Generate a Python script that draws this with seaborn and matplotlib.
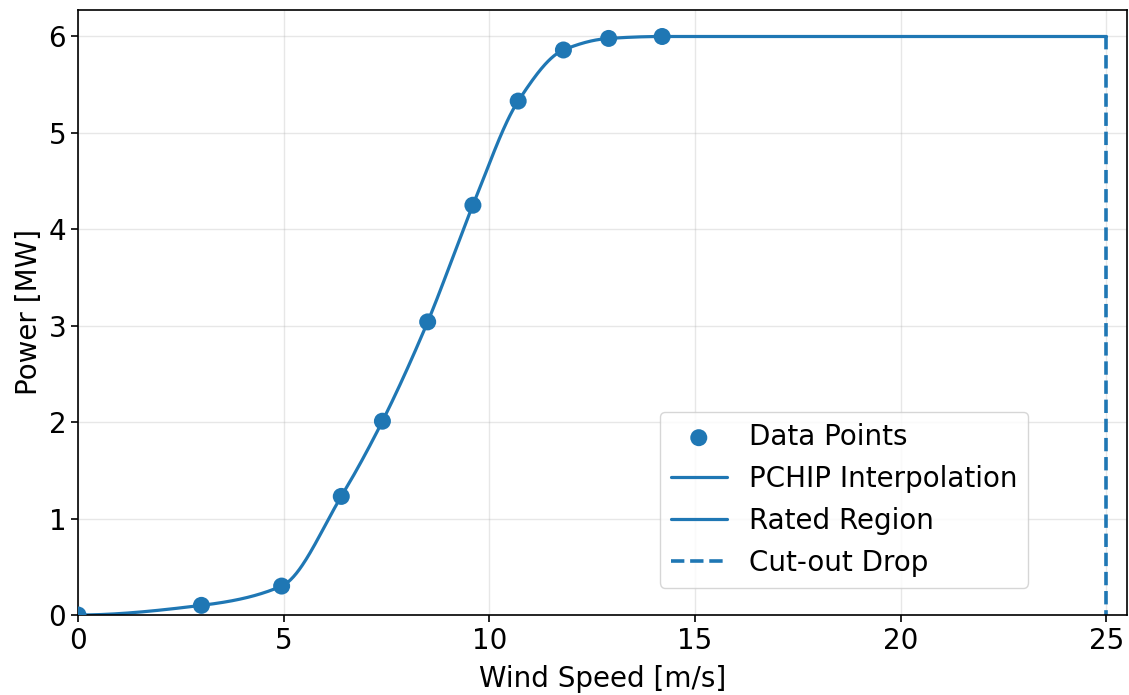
import numpy as np
import pandas as pd
import matplotlib
matplotlib.use("Agg")
import matplotlib.pyplot as plt
import seaborn as sns

# Data
wind_speed = [0.0, 3.0, 4.95, 6.4, 7.4, 8.5, 9.6, 10.7, 11.8, 12.9, 14.2]
power_mw = [0.0, 0.10, 0.30, 1.23, 2.01, 3.04, 4.25, 5.33, 5.86, 5.98, 6.0]
rated_power = 6.0
cut_out_speed = 25.0
x_ticks = [0, 5, 10, 15, 20, 25]
y_ticks = [0, 1, 2, 3, 4, 5, 6]


def pchip(x, y, xs):
    x = np.asarray(x, float)
    y = np.asarray(y, float)
    h = np.diff(x)
    delta = np.diff(y) / h
    n = len(x)
    d = np.zeros(n)
    for k in range(1, n - 1):
        if delta[k - 1] * delta[k] > 0:
            w1 = 2 * h[k] + h[k - 1]
            w2 = h[k] + 2 * h[k - 1]
            d[k] = (w1 + w2) / (w1 / delta[k - 1] + w2 / delta[k])
        else:
            d[k] = 0.0

    def edge(h0, h1, m0, m1):
        dd = ((2 * h0 + h1) * m0 - h0 * m1) / (h0 + h1)
        if np.sign(dd) != np.sign(m0):
            dd = 0.0
        elif np.sign(m0) != np.sign(m1) and abs(dd) > abs(3 * m0):
            dd = 3 * m0
        return dd

    d[0] = edge(h[0], h[1], delta[0], delta[1])
    d[-1] = edge(h[-1], h[-2], delta[-1], delta[-2])
    idx = np.clip(np.searchsorted(x, xs) - 1, 0, n - 2)
    t = (xs - x[idx]) / h[idx]
    h00 = 2 * t**3 - 3 * t**2 + 1
    h10 = t**3 - 2 * t**2 + t
    h01 = -2 * t**3 + 3 * t**2
    h11 = t**3 - t**2
    return h00 * y[idx] + h10 * h[idx] * d[idx] + h01 * y[idx + 1] + h11 * h[idx] * d[idx + 1]


xs = np.linspace(wind_speed[0], wind_speed[-1], 600)
curve = pd.DataFrame({"x": xs, "y": pchip(wind_speed, power_mw, xs)})
points = pd.DataFrame({"x": wind_speed, "y": power_mw})
rated = pd.DataFrame({"x": [wind_speed[-1], cut_out_speed], "y": [rated_power, rated_power]})
cutout = pd.DataFrame({"x": [cut_out_speed, cut_out_speed], "y": [rated_power, 0.0]})

sns.set_theme(style="ticks")
plt.rcParams["font.family"] = ["DejaVu Sans"]
plt.rcParams["text.color"] = "black"
plt.rcParams["axes.labelcolor"] = "black"
color = "#1f77b4"
FS = 20

fig = plt.figure(figsize=(11.29, 6.95), dpi=100)
ax = fig.add_axes([78 / 1129, 1 - 615 / 695, 1049 / 1129, 605.5 / 695])

sns.lineplot(data=curve, x="x", y="y", ax=ax, color=color, linewidth=2.3,
             label="PCHIP Interpolation", sort=False, estimator=None)
sns.lineplot(data=rated, x="x", y="y", ax=ax, color=color, linewidth=2.3,
             label="Rated Region", sort=False, estimator=None)
sns.lineplot(data=cutout, x="x", y="y", ax=ax, color=color, linewidth=2.6,
             linestyle="--", label="Cut-out Drop", sort=False, estimator=None)
sns.scatterplot(data=points, x="x", y="y", ax=ax, color=color, s=150,
                edgecolor="none", label="Data Points", zorder=5)

ax.set_xlim(0, 25.5)
ax.set_ylim(0, 6.28)
ax.set_xticks(x_ticks)
ax.set_yticks(y_ticks)
ax.grid(True, color="#b0b0b0", alpha=0.3, linewidth=1)
ax.set_xlabel("Wind Speed [m/s]", fontsize=FS, color="black", labelpad=7)
ax.set_ylabel("Power [MW]", fontsize=FS, color="black")
ax.tick_params(axis="both", labelsize=FS, length=5, width=1.2, colors="black")
for s in ax.spines.values():
    s.set_visible(True)
    s.set_color("black")
    s.set_linewidth(1.2)

handles, labels = ax.get_legend_handles_labels()
order = [labels.index(l) for l in ["Data Points", "PCHIP Interpolation", "Rated Region", "Cut-out Drop"]]
leg = ax.legend([handles[i] for i in order], [labels[i] for i in order],
                loc="lower right", bbox_to_anchor=(0.906, 0.045), borderaxespad=0,
                fontsize=FS, frameon=True, framealpha=0.8, edgecolor="#cccccc",
                handlelength=2.0)
for t in leg.get_texts():
    t.set_color("black")

fig.savefig("out.png", dpi=100)
